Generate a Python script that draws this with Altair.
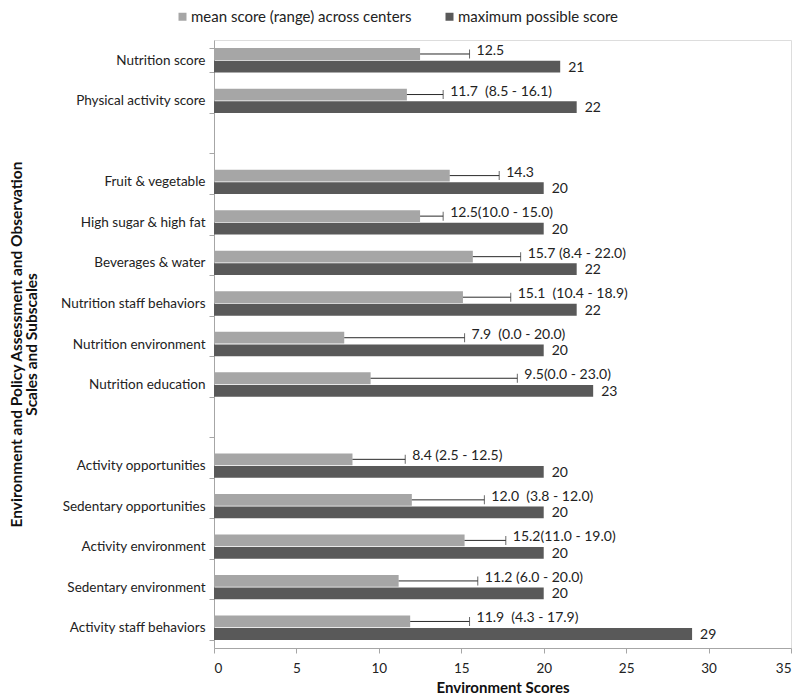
import altair as alt
import pandas as pd

categories = ["Nutrition score", "Physical activity score", "gap1",
              "Fruit & vegetable", "High sugar & high fat", "Beverages & water",
              "Nutrition staff behaviors", "Nutrition environment", "Nutrition education",
              "gap2",
              "Activity opportunities", "Sedentary opportunities", "Activity environment",
              "Sedentary environment", "Activity staff behaviors"]
scored = [c for c in categories if not c.startswith("gap")]
mean_scores = [12.5, 11.7, 14.3, 12.5, 15.7, 15.1, 7.9, 9.5, 8.4, 12.0, 15.2, 11.2, 11.9]
error_upper = [15.5, 13.9, 17.3, 13.9, 18.6, 18.0, 15.2, 18.4, 11.6, 16.4, 17.7, 16.0, 15.5]
max_scores = [21, 22, 20, 20, 22, 22, 20, 23, 20, 20, 20, 20, 29]
NB = "\u00a0"
mean_labels = ["12.5", "11.7" + NB * 2 + "(8.5 - 16.1)", "14.3", "12.5(10.0 - 15.0)",
               "15.7 (8.4 - 22.0)", "15.1" + NB * 2 + "(10.4 - 18.9)",
               "7.9" + NB * 2 + "(0.0 - 20.0)", "9.5(0.0 - 23.0)", "8.4 (2.5 - 12.5)",
               "12.0" + NB * 2 + "(3.8 - 12.0)", "15.2(11.0 - 19.0)", "11.2 (6.0 - 20.0)",
               "11.9" + NB * 2 + "(4.3 - 17.9)"]
series = ["mean score (range) across centers", "maximum possible score"]
colors = ["#A6A6A6", "#595959"]

bars = pd.DataFrame({
    "cat": scored * 2,
    "series": [series[0]] * len(scored) + [series[1]] * len(scored),
    "value": mean_scores + max_scores,
})
means = pd.DataFrame({"cat": scored, "series": series[0], "value": mean_scores,
                      "upper": error_upper, "label": mean_labels})
maxes = pd.DataFrame({"cat": scored, "series": series[1], "value": max_scores,
                      "label": [str(v) for v in max_scores]})

FONT = "Lato"
AXIS_GREY = "#a6a6a6"

y_enc = alt.Y("cat:N", scale=alt.Scale(domain=categories, paddingInner=0.4, paddingOuter=0.2),
              sort=categories,
              axis=alt.Axis(
                  title=["Environment and Policy Assessment and Observation", "Scales and Subscales"],
                  labelExpr="indexof(datum.label, 'gap') == 0 ? '' : datum.label",
                  tickBand="extent", tickSize=5, tickColor=AXIS_GREY, domainColor=AXIS_GREY,
                  labelFontSize=13.5, labelColor="#222222", labelPadding=4, labelFont=FONT,
                  titleFont=FONT, titleFontSize=15.5, titleFontWeight="bold", titleColor="#111111",
                  titleAnchor="middle", titleAngle=-90, titleBaseline="top", titleX=-205,
                  titleLineHeight=15))
yoff = alt.YOffset("series:N", scale=alt.Scale(domain=series, paddingInner=0.06))
x_scale = alt.Scale(domain=[0, 35], nice=False, zero=True)
x_enc = alt.X("value:Q", scale=x_scale,
              axis=alt.Axis(title="Environment Scores", values=list(range(0, 36, 5)), grid=False,
                            tickSize=5, tickColor=AXIS_GREY, domainColor=AXIS_GREY,
                            labelFontSize=13.5, labelColor="#222222", labelFont=FONT, labelPadding=8,
                            titleFont=FONT, titleFontSize=15, titleFontWeight="bold",
                            titleColor="#111111", titlePadding=6))

bar_layer = alt.Chart(bars).mark_bar().encode(
    y=y_enc, yOffset=yoff, x=x_enc,
    color=alt.Color("series:N", scale=alt.Scale(domain=series, range=colors),
                    legend=alt.Legend(title=None, orient="none", legendX=-39, legendY=-31,
                                      direction="horizontal", symbolType="square", symbolSize=64,
                                      symbolStrokeWidth=0, labelFont=FONT, labelFontSize=15,
                                      labelColor="#222222", labelLimit=400, labelOffset=1,
                                      columnPadding=30)),
)

err_rule = alt.Chart(means).mark_rule(color="#2a2a2a", strokeWidth=1).encode(
    y=alt.Y("cat:N", scale=alt.Scale(domain=categories)), yOffset=yoff,
    x=alt.X("value:Q", scale=x_scale), x2="upper:Q")
err_cap = alt.Chart(means).mark_tick(color="#2a2a2a", thickness=1, size=9).encode(
    y=alt.Y("cat:N", scale=alt.Scale(domain=categories)), yOffset=yoff,
    x=alt.X("upper:Q", scale=x_scale))
mean_text = alt.Chart(means).mark_text(align="left", baseline="middle", dx=7, dy=-3,
                                        font=FONT, fontSize=14, color="#222222").encode(
    y=alt.Y("cat:N", scale=alt.Scale(domain=categories)), yOffset=yoff,
    x=alt.X("upper:Q", scale=x_scale), text="label:N")
max_text = alt.Chart(maxes).mark_text(align="left", baseline="middle", dx=8, dy=1,
                                       font=FONT, fontSize=14, color="#222222").encode(
    y=alt.Y("cat:N", scale=alt.Scale(domain=categories)), yOffset=yoff,
    x=alt.X("value:Q", scale=x_scale), text="label:N")

chart = alt.layer(bar_layer, err_rule, err_cap, mean_text, max_text).properties(
    width=577, height=608, autosize="none",
    padding={"left": 206, "top": 32, "right": 1, "bottom": 50},
).configure_view(stroke=None).configure(background="white")

chart.save("out.html", embed_options={"renderer": "svg", "actions": False})
